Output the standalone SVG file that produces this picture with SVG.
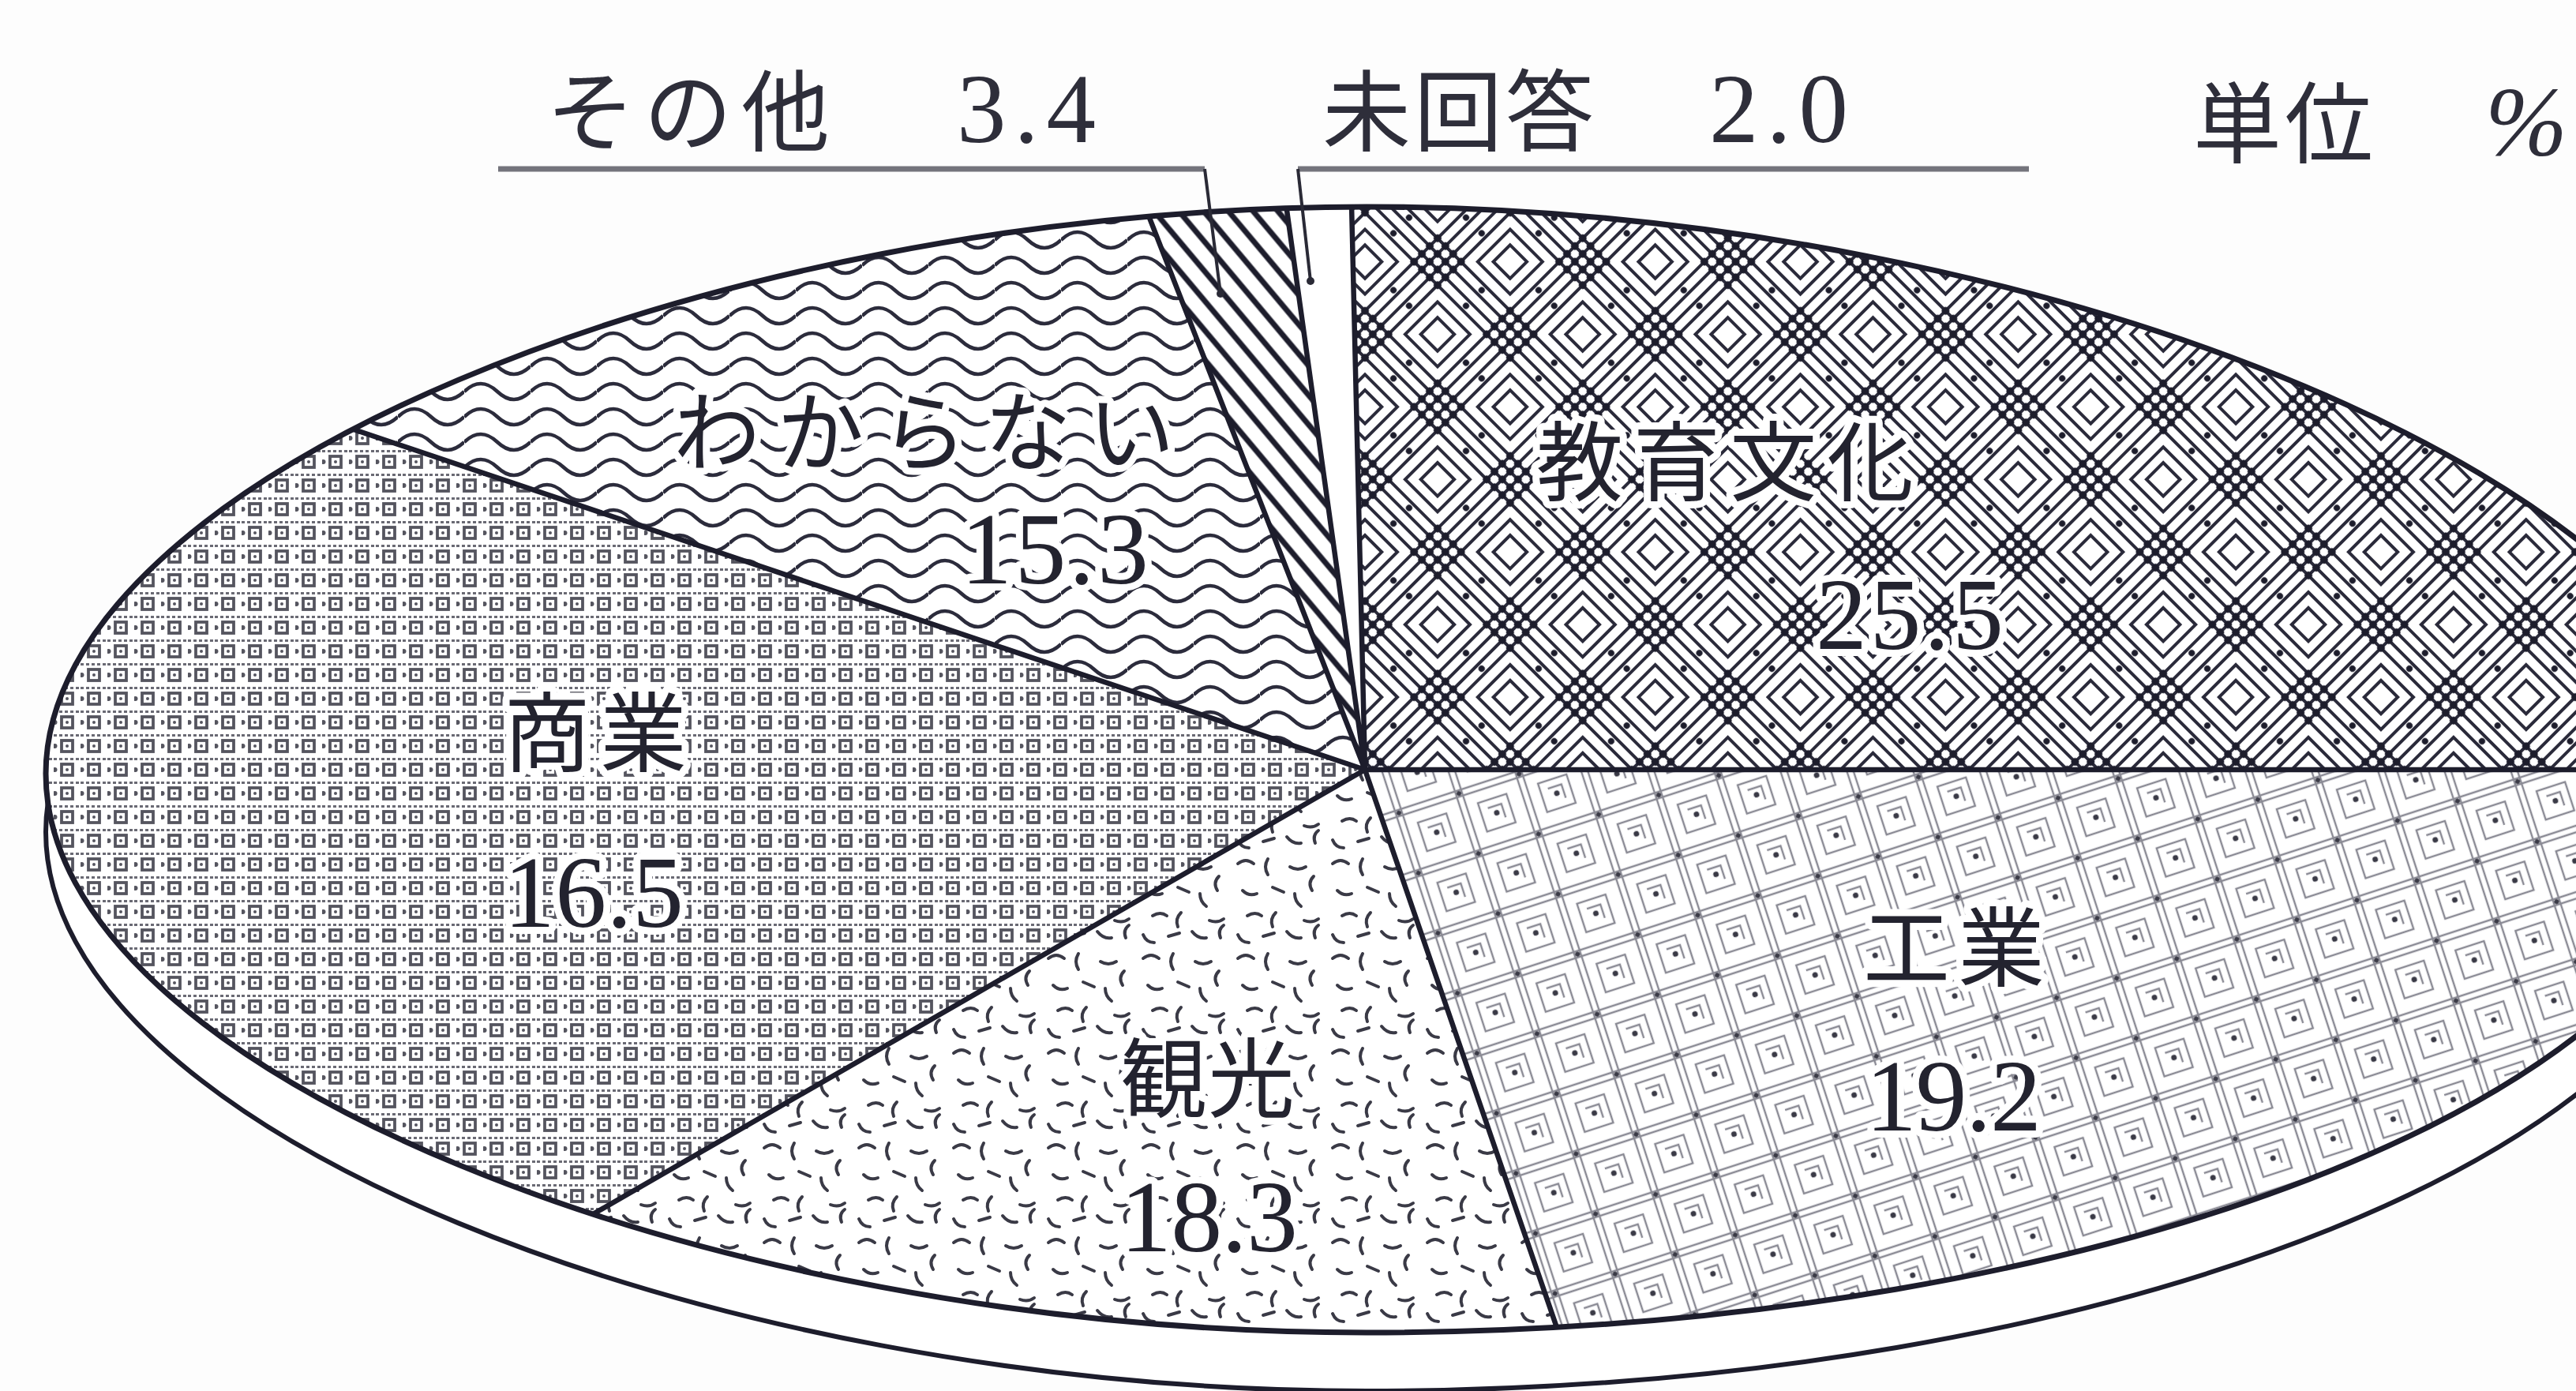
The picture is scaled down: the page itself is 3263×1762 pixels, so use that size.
<svg xmlns="http://www.w3.org/2000/svg" width="3263" height="1762" viewBox="0 0 3263 1762">
<defs>
<style>
.div{stroke:#1d1d2c;stroke-width:6.5;fill:none}
.lbl{font-family:"Noto Sans CJK JP","Noto Sans CJK SC",sans-serif;font-size:110px;fill:#23232f;stroke:#fff;stroke-width:18px;stroke-linejoin:round;paint-order:stroke}
.num{font-family:"Liberation Serif","Noto Sans CJK JP",serif;font-size:130px;fill:#23232f;stroke:#fff;stroke-width:18px;stroke-linejoin:round;paint-order:stroke}
.head{font-family:"Noto Sans CJK JP","Noto Sans CJK SC",sans-serif;font-size:112px;fill:#2e2e3a}
.headnum{font-family:"Liberation Serif",serif;font-size:125px;fill:#2e2e3a}
.uline{stroke:#74747c;stroke-width:7}
.lead{stroke:#2a2a36;stroke-width:4;fill:none}
</style>
<clipPath id="faceClip"><path d="M1731 262 C2595 262 3460 626 3460 990 C3460 1374 2682 1688 1731 1688 C894.5 1688 58 1357 58 980 C58 607 894.5 262 1731 262 Z"/></clipPath>
<pattern id="pWave" patternUnits="userSpaceOnUse" width="84" height="32">
<rect width="84" height="32" fill="#fff"/>
<path d="M0 16 Q21 -4 42 16 T84 16" stroke="#2c2c3c" stroke-width="4.5" fill="none"/>
</pattern>
<pattern id="pHatch" patternUnits="userSpaceOnUse" width="24" height="24" patternTransform="rotate(50)">
<rect width="24" height="24" fill="#fff"/>
<line x1="0" y1="12" x2="24" y2="12" stroke="#1d1d2c" stroke-width="7"/>
</pattern>
<pattern id="pDia" patternUnits="userSpaceOnUse" width="130" height="130" patternTransform="translate(1729 975) rotate(45)">
<rect width="130" height="130" fill="#fff"/>
<g stroke="#2a2a3a" stroke-width="4" fill="none">
<path d="M0 7H130M0 21H130M0 109H130M0 123H130M7 0V130M21 0V130M109 0V130M123 0V130"/>
<rect x="36" y="36" width="58" height="58"/>
<rect x="50" y="50" width="30" height="30"/>
</g>
<g fill="#1d1d2c">
<circle cx="7" cy="7" r="5"/><circle cx="21" cy="7" r="5"/><circle cx="109" cy="7" r="5"/><circle cx="123" cy="7" r="5"/>
<circle cx="7" cy="21" r="5"/><circle cx="21" cy="21" r="5"/><circle cx="109" cy="21" r="5"/><circle cx="123" cy="21" r="5"/>
<circle cx="7" cy="109" r="5"/><circle cx="21" cy="109" r="5"/><circle cx="109" cy="109" r="5"/><circle cx="123" cy="109" r="5"/>
<circle cx="7" cy="123" r="5"/><circle cx="21" cy="123" r="5"/><circle cx="109" cy="123" r="5"/><circle cx="123" cy="123" r="5"/>
<circle cx="65" cy="14" r="4"/><circle cx="14" cy="65" r="4"/><circle cx="116" cy="65" r="4"/><circle cx="65" cy="116" r="4"/>
</g>
</pattern>
<pattern id="pKou" patternUnits="userSpaceOnUse" width="80" height="80" patternTransform="rotate(-18)">
<rect width="80" height="80" fill="#fff"/>
<g stroke="#8a8a94" stroke-width="2.4" fill="none">
<path d="M0 3H80M0 11H80M3 0V80M11 0V80"/>
<rect x="26" y="26" width="38" height="38"/>
<path d="M36 36h18v18"/>
</g>
<circle cx="45" cy="45" r="3.5" fill="#3a3a46"/>
<circle cx="7" cy="7" r="3" fill="#3a3a46"/>
</pattern>
<pattern id="pKan" patternUnits="userSpaceOnUse" width="120" height="120">
<rect width="120" height="120" fill="#fff"/>
<g stroke="#3a3a46" stroke-width="4" fill="none" stroke-linecap="round">
<path d="M8 14q10-8 20 0"/><path d="M46 8q-6 10 0 20"/><path d="M74 18q10 6 20 0"/><path d="M104 30q-8 8-2 18"/>
<path d="M14 48q8 8 18 4"/><path d="M52 44l14 6"/><path d="M80 52q0 10 8 16"/><path d="M20 80q10-6 18 0"/>
<path d="M56 76q-8 8-4 18"/><path d="M92 86q10 4 18-2"/><path d="M8 104q4 10 14 10"/><path d="M40 106l14-4"/>
<path d="M70 100q8 10 18 8"/><path d="M106 108q-4-10 4-16"/>
</g>
</pattern>
<pattern id="pSho" patternUnits="userSpaceOnUse" width="34" height="30">
<rect width="34" height="30" fill="#fff"/>
<rect x="10" y="8" width="14" height="14" fill="none" stroke="#55555f" stroke-width="3.8"/>
<path d="M0 1.5H34" stroke="#6a6a74" stroke-width="3" stroke-dasharray="4 3"/>
<circle cx="1.5" cy="15" r="3" fill="#55555f"/>
<circle cx="17" cy="15" r="2" fill="#55555f"/>
</pattern>
</defs>
<rect width="3263" height="1762" fill="#fdfdfd"/>
<g id="rim">
<path d="M1731 336 C2595 336 3460 700 3460 1064 C3460 1448 2682 1762 1731 1762 C894.5 1762 58 1431 58 1054 C58 681 894.5 336 1731 336 Z" fill="#fff" stroke="#1d1d2c" stroke-width="6"/>
</g>
<g id="slice-kyouiku"><polygon points="1729,975 1694,-500 4000,-500 4000,975" fill="url(#pDia)" clip-path="url(#faceClip)"/></g>
<g id="slice-kougyou"><polygon points="1729,975 4000,975 4000,2400 2219,2400" fill="url(#pKou)" clip-path="url(#faceClip)"/></g>
<g id="slice-kankou"><polygon points="1729,975 2219,2400 -746,2400" fill="url(#pKan)" clip-path="url(#faceClip)"/></g>
<g id="slice-shougyou"><polygon points="1729,975 -746,2400 -800,2400 -800,124" fill="url(#pSho)" clip-path="url(#faceClip)"/></g>
<g id="slice-wakaranai"><polygon points="1729,975 -800,124 -800,-500 1153,-500" fill="url(#pWave)" clip-path="url(#faceClip)"/></g>
<g id="slice-sonota"><polygon points="1729,975 1153,-500 1523,-500" fill="url(#pHatch)" clip-path="url(#faceClip)"/></g>
<g id="slice-mikaitou"><polygon points="1729,975 1523,-500 1694,-500" fill="#fff" clip-path="url(#faceClip)"/></g>
<g id="dividers" clip-path="url(#faceClip)">
<path class="div" d="M1729 975L4000 975M1729 975L2219 2400M1729 975L-746 2400M1729 975L-800 124M1729 975L1153 -500M1729 975L1523 -500M1729 975L1694 -500"/>
</g>
<g id="face-outline">
<path d="M1731 262 C2595 262 3460 626 3460 990 C3460 1374 2682 1688 1731 1688 C894.5 1688 58 1357 58 980 C58 607 894.5 262 1731 262 Z" fill="none" stroke="#1d1d2c" stroke-width="7"/>
</g>
<g id="labels">
<text class="lbl" x="853" y="588" textLength="635" lengthAdjust="spacing">わからない</text>
<text class="num" x="1217" y="739" textLength="238" lengthAdjust="spacing">15.3</text>
<text class="lbl" x="1946" y="626" textLength="478" lengthAdjust="spacing">教育文化</text>
<text class="num" x="2300" y="822" textLength="238" lengthAdjust="spacing">25.5</text>
<text class="lbl" x="638" y="969" textLength="232" lengthAdjust="spacing">商業</text>
<text class="num" x="638" y="1174" textLength="228" lengthAdjust="spacing">16.5</text>
<text class="lbl" x="1419" y="1407" textLength="221" lengthAdjust="spacing">観光</text>
<text class="num" x="1419" y="1585" textLength="225" lengthAdjust="spacing">18.3</text>
<text class="lbl" x="2360" y="1241" textLength="230" lengthAdjust="spacing">工業</text>
<text class="num" x="2363" y="1432" textLength="223" lengthAdjust="spacing">19.2</text>
</g>
<g id="header">
<text class="head" x="692" y="183" textLength="359" lengthAdjust="spacing">その他</text>
<text class="headnum" x="1212" y="180" textLength="176" lengthAdjust="spacing">3.4</text>
<text class="head" x="1675" y="183" textLength="344" lengthAdjust="spacing">未回答</text>
<text class="headnum" x="2165" y="180" textLength="176" lengthAdjust="spacing">2.0</text>
<text class="head" x="2778" y="198" textLength="228" lengthAdjust="spacing">単位</text>
<text class="headnum" x="3148" y="196" font-style="italic">%</text>
</g>
<g id="connectors">
<line class="uline" x1="631" y1="214" x2="1526" y2="214"/>
<line class="uline" x1="1644" y1="214" x2="2570" y2="214"/>
<path class="lead" d="M1526 214L1546 372"/>
<path class="lead" d="M1644 214L1660 356"/>
<circle cx="1546" cy="372" r="5" fill="#2a2a36"/>
<circle cx="1660" cy="356" r="5" fill="#2a2a36"/>
</g>
</svg>
